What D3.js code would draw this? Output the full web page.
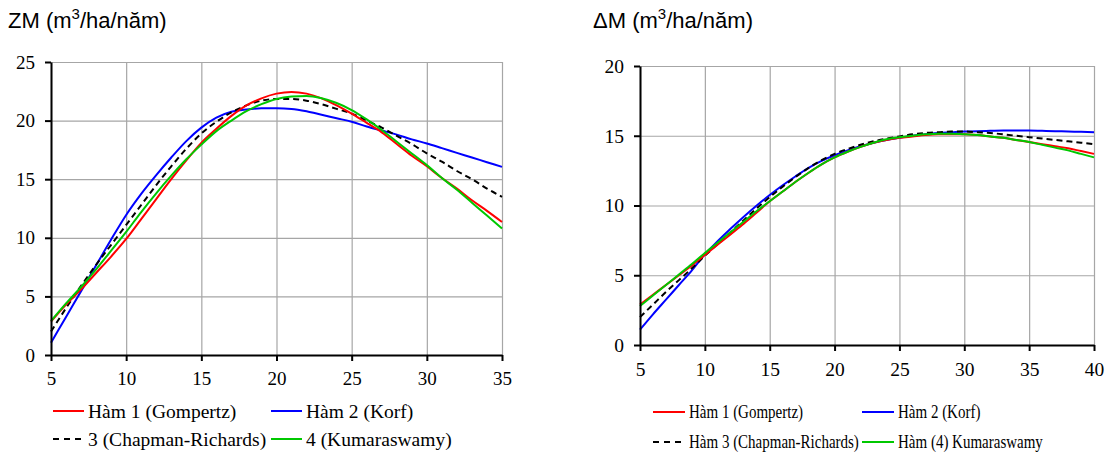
<!DOCTYPE html>
<html>
<head>
<meta charset="utf-8">
<script src="https://cdn.jsdelivr.net/npm/d3@7"></script>
<style>
  body { margin: 0; background: #fff; }
</style>
</head>
<body>
<div id="plot"></div>
<script>
const CANVAS_WIDTH  = 1110;
const CANVAS_HEIGHT = 456;
const SERIF = "'Liberation Serif', 'Times New Roman', serif";
const SANS  = "'Liberation Sans', Arial, sans-serif";

// ---- left chart: ZM
var zmYears = d3.range(5, 36);
var zmGompertz = [2.85, 4.3, 5.6, 7.0, 8.4, 9.9, 11.6, 13.3, 15.0, 16.6, 18.1, 19.3, 20.4, 21.3, 21.9, 22.3,
                  22.45, 22.3, 21.9, 21.3, 20.6, 19.8, 19.0, 18.0, 17.0, 16.1, 15.1, 14.2, 13.2, 12.3, 11.35];
var zmKorf = [1.05, 3.25, 5.45, 7.65, 9.85, 11.95, 13.75, 15.35, 16.85, 18.25, 19.4, 20.25, 20.75, 20.95, 21.05, 21.05,
              21.0, 20.8, 20.5, 20.2, 19.9, 19.5, 19.15, 18.8, 18.4, 18.05, 17.65, 17.25, 16.85, 16.45, 16.05];
var zmChapman = [2.0, 4.0, 5.9, 7.7, 9.4, 11.1, 12.8, 14.5, 16.1, 17.6, 18.9, 19.9, 20.7, 21.3, 21.7, 21.85,
                 21.85, 21.7, 21.4, 21.0, 20.6, 20.0, 19.4, 18.7, 18.0, 17.2, 16.5, 15.7, 15.0, 14.2, 13.5];
var zmKumaraswamy = [2.9, 4.4, 5.8, 7.3, 8.9, 10.5, 12.2, 13.8, 15.3, 16.7, 17.95, 19.1, 20.0, 20.8, 21.4, 21.85,
                     22.05, 22.1, 21.9, 21.5, 20.9, 20.1, 19.2, 18.2, 17.2, 16.2, 15.1, 14.1, 13.0, 11.9, 10.8];
var zmXTicks = [5, 10, 15, 20, 25, 30, 35];
var zmYTicks = [0, 5, 10, 15, 20, 25];
var zmLegend = ["Hàm 1 (Gompertz)", "Hàm 2 (Korf)", "3 (Chapman-Richards)", "4 (Kumaraswamy)"];

// ---- right chart: delta M
var dmYears = d3.range(5, 41);
var dmGompertz = [2.9, 3.6, 4.3, 5.0, 5.7, 6.45, 7.2, 7.95, 8.7, 9.5, 10.3, 11.0, 11.7, 12.35, 12.95, 13.45, 13.85, 14.2,
                  14.5, 14.7, 14.85, 14.95, 15.05, 15.1, 15.1, 15.1, 15.05, 14.95, 14.85, 14.7, 14.55, 14.4, 14.25, 14.1, 13.9, 13.7];
var dmKorf = [1.1, 2.2, 3.25, 4.3, 5.35, 6.5, 7.45, 8.35, 9.2, 10.0, 10.75, 11.45, 12.1, 12.7, 13.2, 13.6, 13.95, 14.25,
              14.5, 14.7, 14.85, 15.0, 15.1, 15.2, 15.25, 15.3, 15.33, 15.35, 15.37, 15.37, 15.37, 15.35, 15.33, 15.3, 15.28, 15.25];
var dmChapman = [2.0, 2.9, 3.8, 4.65, 5.5, 6.4, 7.25, 8.1, 8.95, 9.8, 10.6, 11.35, 12.05, 12.7, 13.25, 13.7, 14.05, 14.35,
                 14.6, 14.8, 14.95, 15.1, 15.2, 15.25, 15.3, 15.3, 15.25, 15.2, 15.1, 15.0, 14.9, 14.8, 14.7, 14.6, 14.5, 14.4];
var dmKumaraswamy = [2.8, 3.55, 4.3, 5.05, 5.8, 6.6, 7.35, 8.1, 8.85, 9.6, 10.3, 11.0, 11.7, 12.35, 12.95, 13.45, 13.85, 14.2,
                     14.5, 14.75, 14.9, 15.0, 15.1, 15.15, 15.15, 15.1, 15.05, 14.95, 14.85, 14.7, 14.55, 14.35, 14.15, 13.95, 13.7, 13.45];
var dmXTicks = [5, 10, 15, 20, 25, 30, 35, 40];
var dmYTicks = [0, 5, 10, 15, 20];
var dmLegend = ["Hàm 1 (Gompertz)", "Hàm 2 (Korf)", "Hàm 3 (Chapman-Richards)", "Hàm (4) Kumaraswamy"];

var seriesStyle = [
    { color: "#ff0000", dash: null },
    { color: "#0000ff", dash: null },
    { color: "#000000", dash: "6,4" },
    { color: "#00c800", dash: null }
];
// draw order: blue, black, red, green on top
var drawOrder = [1, 2, 0, 3];

var svg = d3.select("#plot")
    .append("svg")
    .attr("width", CANVAS_WIDTH)
    .attr("height", CANVAS_HEIGHT);

function drawChart(cfg) {
    var g = svg.append("g");

    var xScale = d3.scaleLinear().domain(cfg.xDomain).range([cfg.left, cfg.right]);
    var yScale = d3.scaleLinear().domain(cfg.yDomain).range([cfg.bottom, cfg.top]);

    // gridlines
    g.append("g")
     .attr("transform", "translate(0," + cfg.bottom + ")")
     .call(d3.axisBottom(xScale).tickValues(cfg.xTicks).tickSize(-(cfg.bottom - cfg.top)).tickFormat(""))
     .call(a => a.select(".domain").remove())
     .selectAll("line").attr("stroke", "#a6a6a6").attr("stroke-width", 1.2);

    g.append("g")
     .attr("transform", "translate(" + cfg.left + ",0)")
     .call(d3.axisLeft(yScale).tickValues(cfg.yTicks).tickSize(-(cfg.right - cfg.left)).tickFormat(""))
     .call(a => a.select(".domain").remove())
     .selectAll("line").attr("stroke", "#a6a6a6").attr("stroke-width", 1.2);

    // curves
    var line = d3.line()
        .x(function(d) { return xScale(d[0]); })
        .y(function(d) { return yScale(d[1]); })
        .curve(d3.curveMonotoneX);

    drawOrder.forEach(function(i) {
        var pts = cfg.years.map(function(yr, k) { return [yr, cfg.series[i][k]]; });
        g.append("path")
         .attr("d", line(pts))
         .attr("fill", "none")
         .attr("stroke", seriesStyle[i].color)
         .attr("stroke-width", 2)
         .attr("stroke-dasharray", seriesStyle[i].dash);
    });

    // axes
    var xAxis = g.append("g")
     .attr("transform", "translate(0," + cfg.bottom + ")")
     .call(d3.axisBottom(xScale).tickValues(cfg.xTicks).tickSizeInner(6).tickSizeOuter(0).tickPadding(10));
    xAxis.select(".domain").attr("stroke", "#000").attr("stroke-width", 2);
    xAxis.selectAll(".tick line").attr("stroke", "#000").attr("stroke-width", 2);
    xAxis.selectAll("text")
     .style("font-family", SERIF)
     .style("font-size", cfg.tickFont + "px")
     .attr("dy", "0.75em")
     .attr("fill", "#000");

    var yAxis = g.append("g")
     .attr("transform", "translate(" + cfg.left + ",0)")
     .call(d3.axisLeft(yScale).tickValues(cfg.yTicks).tickSizeInner(6).tickSizeOuter(0).tickPadding(10));
    yAxis.select(".domain").attr("stroke", "#000").attr("stroke-width", 2);
    yAxis.selectAll(".tick line").attr("stroke", "#000").attr("stroke-width", 2);
    yAxis.selectAll("text")
     .style("font-family", SERIF)
     .style("font-size", cfg.tickFont + "px")
     .attr("fill", "#000");

    // title
    var title = g.append("text")
     .attr("x", cfg.titleX)
     .attr("y", 28)
     .style("font-family", SANS)
     .style("font-size", "22px");
    title.append("tspan").text(cfg.titlePrefix + " (m");
    title.append("tspan").style("font-size", "15px").attr("dy", -9).text("3");
    title.append("tspan").attr("dy", 9).text("/ha/năm)");

    // legend
    cfg.legendPos.forEach(function(p, i) {
        var st = seriesStyle[i];
        g.append("line")
         .attr("x1", p[0]).attr("x2", p[0] + cfg.legendLine)
         .attr("y1", p[1]).attr("y2", p[1])
         .attr("stroke", st.color)
         .attr("stroke-width", 2)
         .attr("stroke-dasharray", st.dash ? "6,5" : null);
        g.append("text")
         .attr("transform", "translate(" + (p[0] + cfg.legendLine + 4) + "," + (p[1] + cfg.legendDy) + ") scale(1," + cfg.legendStretch + ")")
         .style("font-family", SERIF)
         .style("font-size", cfg.legendFont + "px")
         .text(cfg.legend[i]);
    });
}

drawChart({
    years: zmYears,
    series: [zmGompertz, zmKorf, zmChapman, zmKumaraswamy],
    xDomain: [5, 35], yDomain: [0, 25],
    xTicks: zmXTicks, yTicks: zmYTicks,
    left: 51, right: 502, top: 62, bottom: 355,
    tickFont: 19,
    titleX: 8, titlePrefix: "ZM",
    legend: zmLegend,
    legendPos: [[53, 411], [271, 411], [53, 439], [271, 439]],
    legendLine: 31, legendFont: 19.5, legendDy: 6.5, legendStretch: 1
});

drawChart({
    years: dmYears,
    series: [dmGompertz, dmKorf, dmChapman, dmKumaraswamy],
    xDomain: [5, 40], yDomain: [0, 20],
    xTicks: dmXTicks, yTicks: dmYTicks,
    left: 640, right: 1094, top: 66, bottom: 345,
    tickFont: 19.5,
    titleX: 593, titlePrefix: "ΔM",
    legend: dmLegend,
    legendPos: [[653, 412], [862, 412], [653, 442], [862, 442]],
    legendLine: 32, legendFont: 15, legendDy: 6, legendStretch: 1.25
});
</script>
</body>
</html>
